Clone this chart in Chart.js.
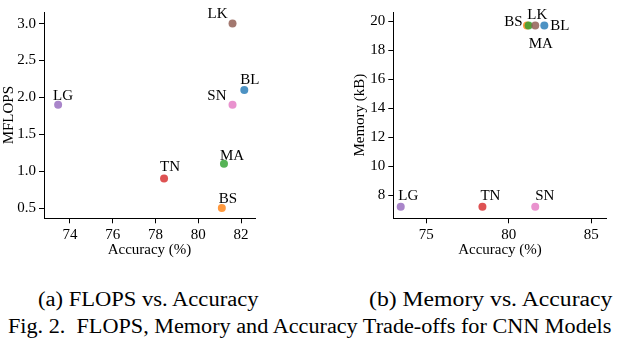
<!DOCTYPE html>
<html>
<head>
<meta charset="utf-8">
<script src="https://cdn.jsdelivr.net/npm/chart.js@4/dist/chart.umd.min.js"></script>
<style>
  body { margin: 0; background: #fff; width: 634px; height: 348px; position: relative; overflow: hidden; }
  .box { position: absolute; }
  .cap { position: absolute; font-family: "Liberation Serif", serif; font-size: 20px; line-height: 20px; color: #000; white-space: nowrap; transform-origin: 0 0; }
</style>
</head>
<body>
<div class="box" id="boxA" style="left:0;top:0;width:270px;height:259px"><canvas id="flopsChart"></canvas></div>
<div class="box" id="boxB" style="left:330px;top:0;width:304px;height:259px"><canvas id="memChart"></canvas></div>
<div class="cap" data-w="221" style="left:38px;top:289px">(a) FLOPS vs. Accuracy</div>
<div class="cap" data-w="244" style="left:369px;top:289px">(b) Memory vs. Accuracy</div>
<div class="cap" data-w="604" style="left:8px;top:316px">Fig. 2.&nbsp; FLOPS, Memory and Accuracy Trade-offs for CNN Models</div>
<script>
// data
const models = ['BL', 'BS', 'MA', 'TN', 'LG', 'LK', 'SN'];
const accuracy = [82.15, 81.1, 81.2, 78.4, 73.45, 81.6, 81.6];
const mflops = [2.1, 0.5, 1.1, 0.9, 1.9, 3.0, 1.9];
const memoryKB = [19.7, 19.7, 19.7, 7.2, 7.2, 19.7, 7.2];

const flopsTicks = [0.5, 1.0, 1.5, 2.0, 2.5, 3.0];
const accTicksA = [74, 76, 78, 80, 82];
const memTicks = [8, 10, 12, 14, 16, 18, 20];
const accTicksB = [75, 80, 85];

// tab10 colours at alpha 0.8
const colors = [
  'rgba(31,119,180,0.8)', 'rgba(255,127,14,0.8)', 'rgba(44,160,44,0.8)',
  'rgba(214,39,40,0.8)', 'rgba(148,103,189,0.8)', 'rgba(140,86,75,0.8)',
  'rgba(227,119,194,0.8)'
];

// label placement next to each point: [dx, dy, align]
const labelPosA = [[-4, -9.5, 'left'], [-3, -9, 'left'], [-4, -8, 'left'], [-4, -11, 'left'],
  [-5, -9, 'left'], [-5, -9.5, 'right'], [-6, -9, 'right']];
const labelPosB = [[6, 1, 'left'], [-4.5, -3.5, 'right'], [0, 19, 'left'], [-2, -11, 'left'],
  [-2.5, -11, 'left'], [2, -10, 'center'], [0, -11, 'left']];

const serif = "'Liberation Serif', 'Times New Roman', serif";
Chart.defaults.font.family = serif;
Chart.defaults.font.size = 15;
Chart.defaults.color = '#000';

// stretch the caption lines to the widths seen in the figure
document.querySelectorAll('.cap').forEach(el => {
  const k = parseFloat(el.dataset.w) / el.scrollWidth;
  el.style.transform = 'scaleX(' + k + ')';
});

const pointLabels = {
  id: 'pointLabels',
  afterDatasetsDraw(chart, args, opts) {
    const ctx = chart.ctx;
    const meta = chart.getDatasetMeta(0);
    ctx.save();
    ctx.font = '15px ' + serif;
    ctx.fillStyle = '#000';
    ctx.textBaseline = 'middle';
    meta.data.forEach((pt, i) => {
      const p = opts.pos[i];
      ctx.textAlign = p[2];
      ctx.fillText(models[i], pt.x + p[0], pt.y + p[1]);
    });
    ctx.restore();
  }
};

function axis(min, max, ticks, fmt, title, size) {
  return {
    type: 'linear',
    min: min,
    max: max,
    afterBuildTicks: s => { s.ticks = ticks.map(v => ({ value: v })); },
    afterFit: s => { if (size.w) s.width = size.w; if (size.h) s.height = size.h; },
    ticks: { color: '#000', padding: 3, callback: fmt },
    grid: { display: true, drawOnChartArea: false, drawTicks: true, tickLength: 5, color: '#000', lineWidth: 1 },
    border: { display: true, color: '#000', width: 1 },
    title: { display: true, text: title, color: '#000', font: { lineHeight: '18px' }, padding: 0 }
  };
}

function createScatter(id, yValues, xScale, yScale, padding, labelPos) {
  return new Chart(document.getElementById(id), {
    type: 'scatter',
    data: {
      datasets: [{
        data: accuracy.map((a, i) => ({ x: a, y: yValues[i] })),
        backgroundColor: colors,
        borderWidth: 0,
        pointRadius: 4,
        pointHoverRadius: 4,
        clip: false
      }]
    },
    options: {
      responsive: true,
      maintainAspectRatio: false,
      animation: false,
      layout: { padding: padding },
      plugins: { legend: { display: false }, tooltip: { enabled: false }, pointLabels: { pos: labelPos } },
      scales: { x: xScale, y: yScale }
    },
    plugins: [pointLabels]
  });
}

createScatter('flopsChart', mflops,
  axis(72.79, 82.65, accTicksA, v => v, 'Accuracy (%)', { h: 40.7 }),
  axis(0.361, 3.157, flopsTicks, v => v.toFixed(1), 'MFLOPS', { w: 44 }),
  { left: 0, top: 4.5, right: 15, bottom: 0 }, labelPosA);

createScatter('memChart', memoryKB,
  axis(73, 85.93, accTicksB, v => v, 'Accuracy (%)', { h: 40.7 }),
  axis(6.4, 20.63, memTicks, v => v, 'Memory (kB)', { w: 42.3 }),
  { left: 21, top: 4.5, right: 27.3, bottom: 0 }, labelPosB);
</script>
</body>
</html>
